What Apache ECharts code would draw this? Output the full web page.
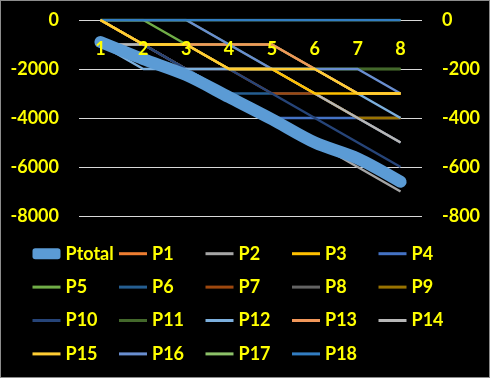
<!DOCTYPE html>
<html>
<head>
<meta charset="utf-8">
<script src="https://cdn.jsdelivr.net/npm/echarts@6/dist/echarts.min.js"></script>
<style>
    html, body { margin: 0; padding: 0; background: #000; }
    #chart { width: 490px; height: 378px; box-sizing: border-box; border: 1px solid #8c8c8c; }
</style>
</head>
<body>
<div id="chart"></div>
<script>
    // categories and tick labels
    const categories = ['1', '2', '3', '4', '5', '6', '7', '8'];
    const leftTicks = [0, -2000, -4000, -6000, -8000];
    const rightTicks = [0, -200, -400, -600, -800];

    // total (left axis)
    const Ptotal = [-900, -1600, -2250, -3150, -4050, -5000, -5650, -6600];

    // parts (right axis)
    const P1 = [0, -100, -100, -100, -100, -200, -300, -300];
    const P2 = [-100, -100, -200, -300, -400, -500, -600, -700];
    const P3 = [0, -100, -100, -200, -200, -300, -300, -300];
    const P4 = [0, -100, -200, -300, -400, -400, -400, -500];
    const P5 = [0, 0, -100, -100, -100, -200, -200, -200];
    const P6 = [0, -100, -200, -300, -300, -300, -400, -400];
    const P7 = [0, -100, -200, -200, -300, -300, -400, -400];
    const P8 = [-100, -100, -100, -200, -200, -300, -400, -500];
    const P9 = [0, -100, -100, -200, -200, -300, -400, -400];
    const P10 = [0, -100, -200, -200, -300, -400, -500, -600];
    const P11 = [0, 0, 0, -100, -200, -200, -200, -200];
    const P12 = [-100, -200, -200, -200, -200, -200, -300, -400];
    const P13 = [0, -100, -100, -100, -100, -200, -300, -300];
    const P14 = [-100, -100, -100, -200, -200, -300, -400, -500];
    const P15 = [0, -100, -100, -200, -200, -200, -300, -300];
    const P16 = [0, 0, 0, -100, -200, -200, -200, -300];
    const P17 = [0, 0, 0, 0, 0, 0, 0, 0];
    const P18 = [0, 0, 0, 0, 0, 0, 0, 0];

    const parts = [P1, P2, P3, P4, P5, P6, P7, P8, P9, P10, P11, P12, P13, P14, P15, P16, P17, P18];
    const colors = ['#ED7D31', '#A5A5A5', '#FFC000', '#4472C4', '#70AD47', '#255E91',
        '#9E480E', '#636363', '#997300', '#264478', '#43682B', '#7CAFDD',
        '#F1975A', '#B7B7B7', '#FFCD33', '#698ED0', '#8CC168', '#327DC2'];

    const labelFont = {
        color: '#FFFF00',
        fontFamily: 'Lato',
        fontWeight: 'bold',
        fontSize: 18
    };

    const series = [{
        name: 'Ptotal',
        type: 'line',
        yAxisIndex: 0,
        data: Ptotal,
        smooth: 0.3,
        symbol: 'none',
        lineStyle: {width: 12, color: '#5B9BD5', cap: 'round', join: 'round'},
        itemStyle: {color: '#5B9BD5'}
    }];
    parts.forEach(function (d, i) {
        series.push({
            name: 'P' + (i + 1),
            type: 'line',
            yAxisIndex: 1,
            data: d,
            symbol: 'none',
            z: (i === 2 || i === 14) ? 3 : 2,
            lineStyle: {width: 2.5, color: colors[i]},
            itemStyle: {color: colors[i]}
        });
    });

    // hide the dot in the line icons, keep the pill for Ptotal
    const legendData = series.map(function (s) {
        if (s.name === 'Ptotal') {
            return {name: s.name, icon: 'roundRect', itemStyle: {opacity: 1}};
        }
        return {name: s.name};
    });

    const chart = echarts.init(document.getElementById('chart'));
    chart.setOption({
        animation: false,
        backgroundColor: '#000',
        grid: {left: 78, right: 67, top: 19, bottom: 161},
        xAxis: {
            type: 'category',
            position: 'top',
            z: 10,
            data: categories,
            boundaryGap: true,
            axisLine: {show: false},
            axisTick: {show: false},
            axisLabel: Object.assign({inside: true, margin: 20}, labelFont)
        },
        yAxis: [
            {
                type: 'value',
                min: leftTicks[leftTicks.length - 1],
                max: leftTicks[0],
                interval: 2000,
                axisLine: {show: false},
                axisTick: {show: false},
                splitLine: {lineStyle: {color: '#d9d9d9', width: 1}},
                axisLabel: Object.assign({margin: 20, formatter: function (v) { return String(v); }}, labelFont)
            },
            {
                type: 'value',
                position: 'right',
                min: rightTicks[rightTicks.length - 1],
                max: rightTicks[0],
                interval: 200,
                axisLine: {show: false},
                axisTick: {show: false},
                splitLine: {show: false},
                axisLabel: Object.assign({margin: 20, formatter: function (v) { return String(v); }}, labelFont)
            }
        ],
        legend: {
            data: legendData,
            left: 25,
            top: 231,
            width: 440,
            orient: 'horizontal',
            itemGap: 0,
            itemWidth: 28,
            itemHeight: 11,
            lineStyle: {width: 3},
            itemStyle: {opacity: 0},
            textStyle: Object.assign({width: 52, lineHeight: 33.4}, labelFont)
        },
        series: series
    });
</script>
</body>
</html>
